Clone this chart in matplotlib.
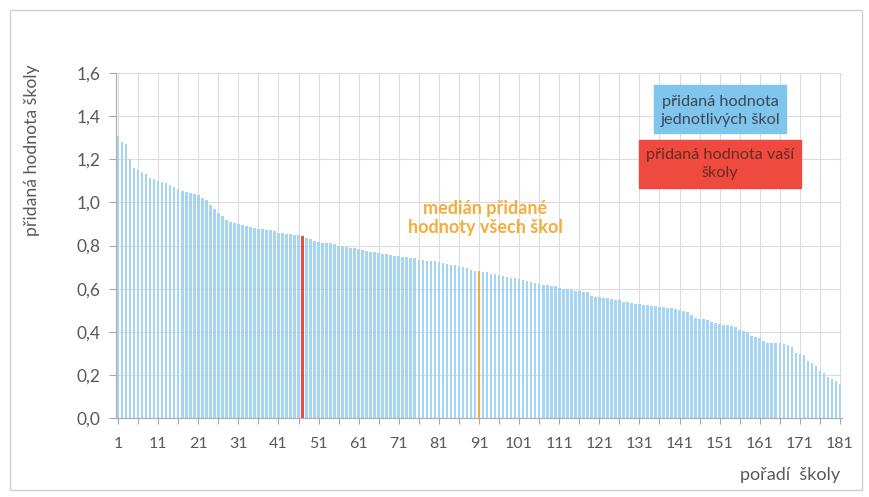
import matplotlib
matplotlib.use("Agg")
import matplotlib.pyplot as plt
from matplotlib.patches import Rectangle
from matplotlib.ticker import FixedLocator, FuncFormatter

plt.rcParams["font.family"] = ["Lato", "DejaVu Sans"]

W, H = 869, 497

# pořadí školy 1..181
ranks = list(range(1, 182))
values = [
    1.31, 1.28, 1.27, 1.20, 1.16, 1.15, 1.14, 1.13, 1.115, 1.11,
    1.10, 1.095, 1.09, 1.08, 1.07, 1.06, 1.055, 1.05, 1.045, 1.04,
    1.035, 1.02, 1.01, 0.99, 0.97, 0.95, 0.935, 0.92, 0.91, 0.905,
    0.90, 0.895, 0.89, 0.885, 0.88, 0.875, 0.875, 0.87, 0.87, 0.865,
    0.86, 0.86, 0.855, 0.855, 0.85, 0.85, 0.845, 0.835, 0.83, 0.82,
    0.815, 0.81, 0.81, 0.81, 0.805, 0.80, 0.80, 0.795, 0.79, 0.79,
    0.785, 0.78, 0.775, 0.77, 0.77, 0.765, 0.76, 0.76, 0.755, 0.75,
    0.75, 0.745, 0.745, 0.74, 0.74, 0.735, 0.735, 0.73, 0.73, 0.73,
    0.725, 0.72, 0.715, 0.71, 0.71, 0.705, 0.70, 0.695, 0.685, 0.68,
    0.68, 0.675, 0.675, 0.67, 0.67, 0.665, 0.66, 0.655, 0.65, 0.65,
    0.645, 0.64, 0.635, 0.63, 0.625, 0.62, 0.615, 0.615, 0.61, 0.61,
    0.605, 0.60, 0.60, 0.595, 0.59, 0.59, 0.585, 0.585, 0.565, 0.56,
    0.56, 0.555, 0.555, 0.55, 0.545, 0.545, 0.54, 0.54, 0.535, 0.53,
    0.53, 0.525, 0.525, 0.52, 0.52, 0.515, 0.515, 0.51, 0.51, 0.505,
    0.50, 0.495, 0.49, 0.48, 0.465, 0.46, 0.46, 0.455, 0.445, 0.44,
    0.435, 0.43, 0.43, 0.425, 0.42, 0.41, 0.405, 0.40, 0.38, 0.375,
    0.37, 0.355, 0.35, 0.35, 0.35, 0.35, 0.345, 0.34, 0.33, 0.30,
    0.295, 0.29, 0.265, 0.255, 0.24, 0.22, 0.21, 0.19, 0.18, 0.17, 0.16,
]
school_rank = 47   # vaše škola
median_rank = 91   # medián

y_ticks = [0.0, 0.2, 0.4, 0.6, 0.8, 1.0, 1.2, 1.4, 1.6]
x_labels = list(range(1, 182, 10))
x_grid = list(range(1, 182, 5))

BLUE = "#a6d5f1"
BOX_BLUE = "#80c6ec"
RED = "#ee4a40"
ORANGE = "#f5ac3a"
GRAY = "#595959"
GRID = "#dcdcdc"

colors = []
for r in ranks:
    if r == school_rank:
        colors.append(RED)
    elif r == median_rank:
        colors.append(ORANGE)
    else:
        colors.append(BLUE)

fig = plt.figure(figsize=(W / 100, H / 100), dpi=100)
ax = fig.add_axes([116 / W, 1 - 418 / H, (842 - 116) / W, (418 - 73) / H])

ax.bar(ranks, values, width=0.66, color=colors, zorder=2)

ax.set_xlim(0.5, 181.5)
ax.set_ylim(0, 1.6)
ax.set_yticks(y_ticks)
ax.yaxis.set_major_formatter(FuncFormatter(lambda v, p: f"{v:.1f}".replace(".", ",")))
ax.xaxis.set_major_locator(FixedLocator(x_grid))
ax.xaxis.set_major_formatter(
    FuncFormatter(lambda v, p: str(int(v)) if int(v) in x_labels else "")
)
ax.grid(True, color=GRID, linewidth=0.8, zorder=0)
ax.set_axisbelow(True)

for s in ("top", "right"):
    ax.spines[s].set_visible(False)
for s in ("left", "bottom"):
    ax.spines[s].set_color("#b0b0b0")
    ax.spines[s].set_linewidth(0.9)
ax.tick_params(axis="y", colors="#a6a6a6", labelcolor=GRAY, labelsize=12.5, length=5, pad=6)
ax.tick_params(axis="x", colors="#a6a6a6", labelcolor=GRAY, labelsize=11.5, length=4, pad=10)

# popisky os
fig.text(32 / W, 1 - 150 / H, "přidaná hodnota školy", rotation=90,
         ha="center", va="center", fontsize=12.7, color=GRAY)
fig.text(790 / W, 1 - 475 / H, "pořadí  školy", ha="center", va="center",
         fontsize=13, color=GRAY)

# medián
ax.text(485 / W, 1 - 218 / H, "medián přidané\nhodnoty všech škol",
        transform=fig.transFigure, ha="center", va="center", fontsize=13,
        fontweight="bold", color=ORANGE, linespacing=1.2, zorder=5)

# legenda
fig.add_artist(Rectangle((654 / W, 1 - 133 / H), 132 / W, 48 / H,
                         transform=fig.transFigure, color=BOX_BLUE, zorder=4))
fig.text(720 / W, 1 - 111 / H, "přidaná hodnota\njednotlivých škol", ha="center",
         va="center", fontsize=11.7, color="#3f4656", linespacing=1.3, zorder=5)
fig.add_artist(Rectangle((639 / W, 1 - 188 / H), 162 / W, 48 / H,
                         transform=fig.transFigure, color=RED, zorder=4))
fig.text(720 / W, 1 - 164 / H, "přidaná hodnota vaší\nškoly", ha="center",
         va="center", fontsize=11.7, color="#6a2a24", linespacing=1.3, zorder=5)

# rámeček
fig.add_artist(Rectangle((10 / W, 1 - 490 / H), 852 / W, 480 / H,
                         transform=fig.transFigure, fill=False,
                         edgecolor="#d0d0d0", linewidth=1))

fig.savefig("out.png", dpi=100)
